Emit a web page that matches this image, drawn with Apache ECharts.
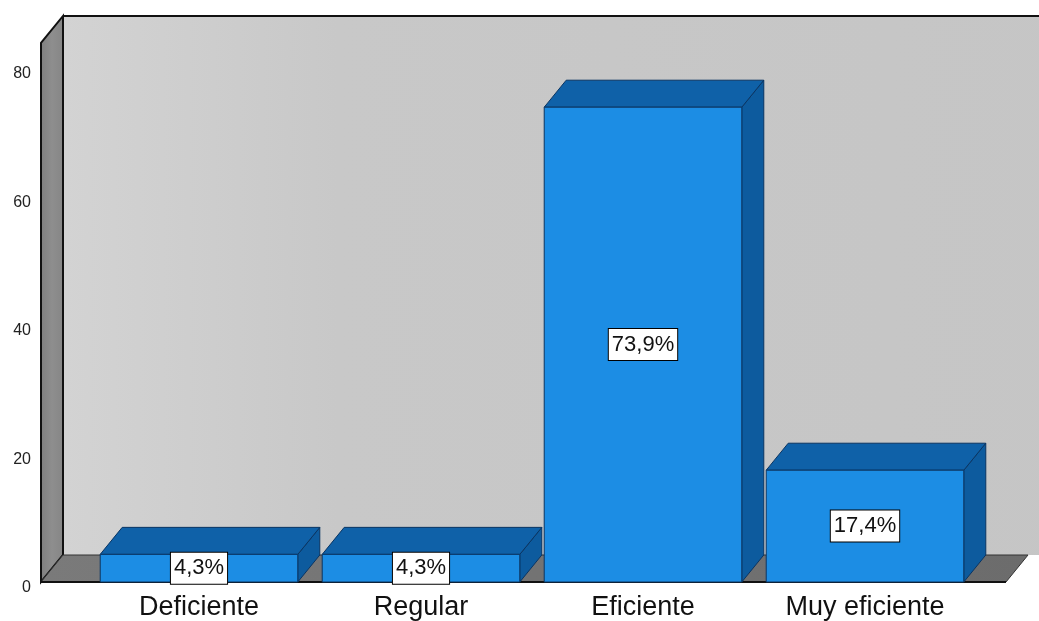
<!DOCTYPE html>
<html>
<head>
<meta charset="utf-8">
<script src="https://cdn.jsdelivr.net/npm/echarts@6/dist/echarts.min.js"></script>
<style>
  html, body { margin: 0; padding: 0; background: #ffffff; }
  #chart { width: 1039px; height: 621px; }
</style>
</head>
<body>
<div id="chart"></div>
<script>
// Survey results: share of answers per rating
const categories = ['Deficiente', 'Regular', 'Eficiente', 'Muy eficiente'];
const percentages = [4.3, 4.3, 73.9, 17.4];
const yTicks = [0, 20, 40, 60, 80];

// 3D look: depth offset of the back plane, in pixels
const DX = 22, DY = 27;
const WALL_TOP = 83.9;          // height of the walls, in axis units
const FONT = '"Liberation Sans", Arial, sans-serif';

function fmtPct(v) { return v.toFixed(1).replace('.', ',') + '%'; }

// Back wall, left wall and floor of the 3D box
function renderFrame(params, api) {
  const cs = params.coordSys;
  const yBase = api.coord([0, 0])[1];
  const yTop = api.coord([0, WALL_TOP])[1];
  const xl = cs.x - 47;
  const xr = cs.x + cs.width + 30;
  return {
    type: 'group',
    silent: true,
    children: [
      {
        type: 'rect',
        shape: { x: xl + DX, y: yTop - DY, width: 1100, height: yBase - yTop },
        style: {
          fill: new echarts.graphic.LinearGradient(0, 0, 1, 0, [
            { offset: 0, color: '#d3d3d3' },
            { offset: 0.25, color: '#c8c8c8' },
            { offset: 1, color: '#c5c5c5' }
          ])
        }
      },
      {
        type: 'line',
        shape: { x1: xl + DX, y1: yTop - DY, x2: 1100, y2: yTop - DY },
        style: { stroke: '#111', lineWidth: 2 }
      },
      {
        type: 'polygon',
        shape: { points: [[xl, yTop], [xl + DX, yTop - DY], [xl + DX, yBase - DY], [xl, yBase]] },
        style: {
          fill: new echarts.graphic.LinearGradient(0, 0, 1, 0, [
            { offset: 0, color: '#7e7e7e' },
            { offset: 0.5, color: '#8e8e8e' },
            { offset: 1, color: '#858585' }
          ]),
          stroke: '#111', lineWidth: 2
        }
      },
      {
        type: 'polygon',
        shape: { points: [[xl, yBase], [xl + DX, yBase - DY], [xr + DX, yBase - DY], [xr, yBase]] },
        style: {
          fill: new echarts.graphic.LinearGradient(0, 0, 1, 0, [
            { offset: 0, color: '#7a7a7a' },
            { offset: 1, color: '#6c6c6c' }
          ]),
          stroke: '#333', lineWidth: 1
        }
      },
      {
        type: 'line',
        shape: { x1: xl, y1: yBase, x2: xr, y2: yBase },
        style: { stroke: '#111', lineWidth: 2 }
      }
    ]
  };
}

// One 3D bar: front face, top face, right side face and a value label
function renderBar(params, api) {
  const i = api.value(0);
  const v = api.value(1);
  const [cx, yt] = api.coord([i, v]);
  const y0 = api.coord([i, 0])[1];
  const w = api.size([1, 0])[0] * 0.89;
  const xL = cx - w / 2, xR = cx + w / 2;
  const edge = '#0a3563';
  return {
    type: 'group',
    children: [
      {
        type: 'polygon',
        shape: { points: [[xR, yt], [xR + DX, yt - DY], [xR + DX, y0 - DY], [xR, y0]] },
        style: { fill: '#0d5b9e', stroke: edge, lineWidth: 1 }
      },
      {
        type: 'polygon',
        shape: { points: [[xL, yt], [xL + DX, yt - DY], [xR + DX, yt - DY], [xR, yt]] },
        style: { fill: '#0f61a8', stroke: edge, lineWidth: 1 }
      },
      {
        type: 'rect',
        shape: { x: xL, y: yt, width: w, height: y0 - yt },
        style: { fill: '#1c8de4', stroke: edge, lineWidth: 1 }
      },
      {
        type: 'text',
        x: cx,
        y: (yt + y0) / 2,
        style: {
          text: fmtPct(v),
          align: 'center',
          verticalAlign: 'middle',
          font: '22px ' + FONT,
          fill: '#111',
          backgroundColor: '#ffffff',
          borderColor: '#000000',
          borderWidth: 1,
          padding: [5, 3, 4, 3]
        }
      }
    ]
  };
}

const chart = echarts.init(document.getElementById('chart'));
chart.setOption({
  animation: false,
  backgroundColor: '#ffffff',
  grid: { left: 88, right: 63, top: 68, bottom: 39 },
  xAxis: {
    type: 'category',
    data: categories,
    axisLine: { show: false },
    axisTick: { show: false },
    axisLabel: { fontSize: 27, fontFamily: FONT, color: '#111', margin: 12 }
  },
  yAxis: {
    type: 'value',
    min: yTicks[0],
    max: yTicks[yTicks.length - 1],
    interval: yTicks[1] - yTicks[0],
    splitLine: { show: false },
    axisLine: { show: false },
    axisTick: { show: false },
    axisLabel: {
      fontSize: 16, fontFamily: FONT, color: '#222', margin: 57,
      verticalAlign: 'top', lineHeight: 12
    }
  },
  series: [
    {
      type: 'custom',
      renderItem: renderFrame,
      data: [[0, 0]],
      encode: { x: 0, y: 1 },
      clip: false,
      silent: true,
      z: 1
    },
    {
      type: 'custom',
      renderItem: renderBar,
      data: percentages.map((v, i) => [i, v]),
      encode: { x: 0, y: 1 },
      clip: false,
      z: 2
    }
  ]
});
</script>
</body>
</html>
